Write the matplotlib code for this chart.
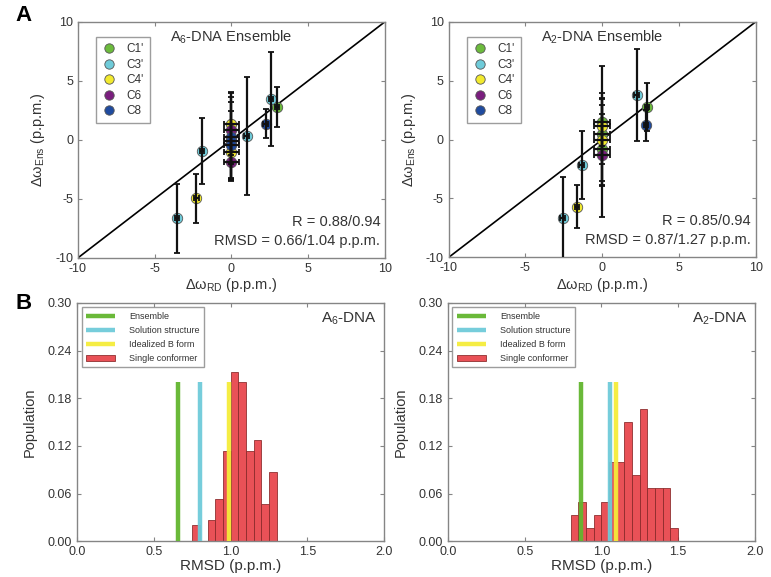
import numpy as np
import matplotlib
matplotlib.use("Agg")
from matplotlib import pyplot as plt

plt.rcParams['font.family'] = ['Liberation Sans', 'DejaVu Sans']
plt.rcParams['mathtext.default'] = 'regular'
plt.rcParams['axes.unicode_minus'] = False

#%% data - panel A (delta omega ensemble vs RD)
groups = ["C1'", "C3'", "C4'", "C6", "C8"]
colors = ['#6cbb3c', '#6fcbd9', '#f2ea2e', '#7a1e7e', '#1f4b9f']

# A6-DNA
a6_x = {"C1'": [2.98], "C3'": [-3.55, -1.9, 1.0, 2.6], "C4'": [-2.28, 0.0, 0.0],
        "C6": [0.0, 0.0], "C8": [2.24, 0.0, 0.0, 0.0]}
a6_y = {"C1'": [2.8], "C3'": [-6.65, -0.95, 0.35, 3.45], "C4'": [-4.95, 1.36, -0.99],
        "C6": [0.8, -1.85], "C8": [1.38, 0.28, -0.06, -0.42]}
a6_yerr = {"C1'": [1.7], "C3'": [2.9, 2.8, 5.0, 4.0], "C4'": [2.1, 2.6, 2.3],
           "C6": [2.8, 1.4], "C8": [1.25, 3.8, 3.3, 2.9]}
a6_xerr = {"C1'": [0.15], "C3'": [0.15, 0.15, 0.15, 0.15], "C4'": [0.15, 0.5, 0.5],
           "C6": [0.5, 0.5], "C8": [0.15, 0.5, 0.5, 0.5]}

# A2-DNA
a2_x = {"C1'": [2.93, 0.0, 0.0, 0.0], "C3'": [-2.57, -1.33, 2.24], "C4'": [-1.63, 0.0, 0.0],
        "C6": [0.0], "C8": [2.87]}
a2_y = {"C1'": [2.77, 1.5, 0.47, -0.83], "C3'": [-6.65, -2.14, 3.76], "C4'": [-5.69, 1.17, -0.04],
        "C6": [-1.32], "C8": [1.21]}
a2_yerr = {"C1'": [2.0, 2.0, 2.5, 3.0], "C3'": [3.5, 2.9, 3.9], "C4'": [1.8, 5.1, 3.5],
           "C6": [5.25], "C8": [1.3]}
a2_xerr = {"C1'": [0.15, 0.5, 0.5, 0.5], "C3'": [0.15, 0.15, 0.15], "C4'": [0.15, 0.5, 0.5],
           "C6": [0.5], "C8": [0.15]}

#%% data - panel B (RMSD histograms)
a6_bins = [0.75, 0.85, 0.90, 0.95, 1.00, 1.05, 1.10, 1.15, 1.20, 1.25]
a6_pop = [0.020, 0.027, 0.053, 0.113, 0.213, 0.200, 0.113, 0.127, 0.047, 0.087]
a6_lines = [0.66, 0.80, 0.99]

a2_bins = [0.80, 0.85, 0.90, 0.95, 1.00, 1.05, 1.10, 1.15, 1.20, 1.25, 1.30, 1.35, 1.40, 1.45]
a2_pop = [0.033, 0.050, 0.017, 0.033, 0.050, 0.100, 0.100, 0.150, 0.083, 0.167,
          0.067, 0.067, 0.067, 0.017]
a2_lines = [0.87, 1.055, 1.095]

bin_width = 0.05
line_top = 0.20
line_names = ['Ensemble', 'Solution structure', 'Idealized B form']
line_colors = ['#62b62e', '#6fcbd9', '#f5ec3a']
hist_color = '#e8474e'

spine_c = '#858585'
text_c = '#333333'

#%%
fig = plt.figure(figsize=(7.71, 5.77), dpi=100)


def style_axes(ax, tsize):
    for s in ax.spines.values():
        s.set_color(spine_c)
        s.set_linewidth(1.0)
    ax.tick_params(direction='in', top=True, right=True, color=spine_c,
                   labelsize=tsize, labelcolor=text_c, length=3)


def scatter_panel(ax, xs, ys, yerrs, xerrs, title, rtext):
    ax.plot([-10, 10], [-10, 10], color='black', lw=1.2, zorder=1)
    for g, c in zip(groups, colors):
        ax.plot(xs[g], ys[g], 'o', ms=7.5, mfc=c, mec='#555555', mew=0.6,
                label=g, zorder=2)
        ax.errorbar(xs[g], ys[g], yerr=yerrs[g], xerr=xerrs[g], fmt='none',
                    ecolor='#111111', elinewidth=1.6, capsize=2.2, capthick=1.3,
                    zorder=3)
    ax.set_xlim(-10, 10)
    ax.set_ylim(-10, 10)
    ax.set_xticks([-10, -5, 0, 5, 10])
    ax.set_yticks([-10, -5, 0, 5, 10])
    style_axes(ax, 9)
    ax.set_xlabel(r'$\Delta\omega_{RD}$ (p.p.m.)', fontsize=10.5, color=text_c, labelpad=1)
    ax.set_ylabel(r'$\Delta\omega_{Ens}$ (p.p.m.)', fontsize=10.5, color=text_c, labelpad=6)
    ax.text(0.5, 0.935, title, transform=ax.transAxes, ha='center', va='center',
            fontsize=10.5, color=text_c)
    ax.text(0.985, 0.153, rtext[0], transform=ax.transAxes, ha='right', va='center',
            fontsize=10.5, color=text_c)
    ax.text(0.985, 0.072, rtext[1], transform=ax.transAxes, ha='right', va='center',
            fontsize=10.5, color=text_c)
    leg = ax.legend(loc='upper left', bbox_to_anchor=(0.04, 0.96), fontsize=8.5,
                    handlelength=1.2, handletextpad=0.9, labelspacing=0.3,
                    borderpad=0.5, fancybox=False, edgecolor=spine_c, markerscale=0.9)
    leg.get_frame().set_linewidth(1.0)
    for t in leg.get_texts():
        t.set_color(text_c)


def hist_panel(ax, bins, pop, lines, title):
    ax.bar(bins, pop, width=bin_width, align='edge', color=hist_color,
           edgecolor='#8a2a2a', linewidth=0.6, alpha=0.95, label='Single conformer',
           zorder=2)
    for xv, name, c in zip(lines, line_names, line_colors):
        ax.plot([xv, xv], [0, line_top], color=c, lw=3.2, solid_capstyle='butt',
                label=name, zorder=3, alpha=0.95)
    ax.set_xlim(0, 2)
    ax.set_ylim(0, 0.30)
    ax.set_xticks([0.0, 0.5, 1.0, 1.5, 2.0])
    ax.set_xticklabels(['0.0', '0.5', '1.0', '1.5', '2.0'])
    ax.set_yticks([0.0, 0.06, 0.12, 0.18, 0.24, 0.30])
    ax.set_yticklabels(['0.00', '0.06', '0.12', '0.18', '0.24', '0.30'])
    style_axes(ax, 9)
    ax.set_xlabel('RMSD (p.p.m.)', fontsize=11, color=text_c, labelpad=1)
    ax.set_ylabel('Population', fontsize=10.5, color=text_c, labelpad=8)
    ax.text(0.977, 0.933, title, transform=ax.transAxes, ha='right', va='center',
            fontsize=11, color=text_c)
    leg = ax.legend(loc='upper left', bbox_to_anchor=(0.0, 1.0), fontsize=6.5,
                    handlelength=3.2, handletextpad=1.6, labelspacing=0.55,
                    borderpad=0.5, fancybox=False, edgecolor=spine_c)
    leg.get_frame().set_linewidth(1.0)
    for t in leg.get_texts():
        t.set_color(text_c)


axA1 = fig.add_axes([0.101, 0.553, 0.398, 0.409])
axA2 = fig.add_axes([0.582, 0.554, 0.398, 0.408])
axB1 = fig.add_axes([0.100, 0.062, 0.398, 0.413])
axB2 = fig.add_axes([0.581, 0.062, 0.398, 0.413])

scatter_panel(axA1, a6_x, a6_y, a6_yerr, a6_xerr, r'A$_6$-DNA Ensemble',
              ['R = 0.88/0.94', 'RMSD = 0.66/1.04 p.p.m.'])
scatter_panel(axA2, a2_x, a2_y, a2_yerr, a2_xerr, r'A$_2$-DNA Ensemble',
              ['R = 0.85/0.94', 'RMSD = 0.87/1.27 p.p.m.'])
hist_panel(axB1, a6_bins, a6_pop, a6_lines, r'A$_6$-DNA')
hist_panel(axB2, a2_bins, a2_pop, a2_lines, r'A$_2$-DNA')

fig.text(0.02, 0.974, 'A', fontsize=16, fontweight='bold', ha='left', va='center')
fig.text(0.02, 0.474, 'B', fontsize=16, fontweight='bold', ha='left', va='center')

fig.savefig('out.png', dpi=100)
